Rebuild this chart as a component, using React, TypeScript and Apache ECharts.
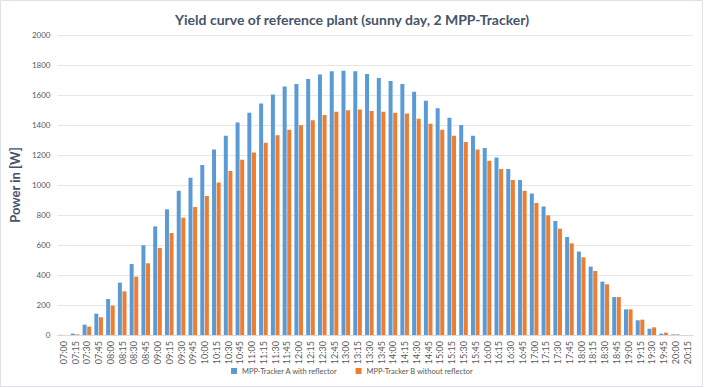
import React, { useEffect, useRef } from "react";
import * as echarts from "echarts";

const categories: string[] = [
  "07:00", "07:15", "07:30", "07:45",
  "08:00", "08:15", "08:30", "08:45",
  "09:00", "09:15", "09:30", "09:45",
  "10:00", "10:15", "10:30", "10:45",
  "11:00", "11:15", "11:30", "11:45",
  "12:00", "12:15", "12:30", "12:45",
  "13:00", "13:15", "13:30", "13:45",
  "14:00", "14:15", "14:30", "14:45",
  "15:00", "15:15", "15:30", "15:45",
  "16:00", "16:15", "16:30", "16:45",
  "17:00", "17:15", "17:30", "17:45",
  "18:00", "18:15", "18:30", "18:45",
  "19:00", "19:15", "19:30", "19:45",
  "20:00", "20:15",
];

const trackerA: number[] = [
  1, 9, 69, 142,
  240, 349, 473, 598,
  724, 838, 962, 1049,
  1133, 1236, 1329, 1416,
  1482, 1544, 1604, 1656,
  1673, 1707, 1736, 1758,
  1762, 1758, 1740, 1713,
  1693, 1673, 1622, 1562,
  1511, 1449, 1400, 1329,
  1247, 1184, 1107, 1033,
  944, 856, 760, 653,
  556, 456, 356, 253,
  171, 98, 42, 9,
  4, 0,
];

const trackerB: number[] = [
  0, 4, 56, 118,
  196, 291, 389, 478,
  580, 680, 782, 853,
  927, 1016, 1093, 1169,
  1216, 1282, 1331, 1369,
  1398, 1431, 1467, 1489,
  1498, 1504, 1493, 1489,
  1482, 1476, 1442, 1409,
  1369, 1329, 1287, 1236,
  1162, 1107, 1033, 962,
  880, 798, 709, 611,
  518, 427, 338, 253,
  171, 102, 51, 16,
  4, 0,
];

const seriesNames: string[] = [
  "MPP-Tracker A with reflector",
  "MPP-Tracker B without reflector",
];

const titleText = "Yield curve of reference plant (sunny day, 2 MPP-Tracker)";
const yAxisName = "Power in [W]";

export default function App() {
  const ref = useRef<HTMLDivElement>(null);

  useEffect(() => {
    document.body.style.margin = "0";
    if (!ref.current) return;
    const chart = echarts.init(ref.current, null, { renderer: "svg" });
    const font = "Lato";
    chart.setOption({
      animation: false,
      backgroundColor: "#ffffff",
      title: {
        text: titleText,
        left: "center",
        top: 7,
        textStyle: {
          fontFamily: font,
          fontSize: 14,
          fontWeight: "bold",
          color: "#44546A",
        },
      },
      graphic: [
        {
          type: "rect",
          shape: { x: 0.5, y: 0.5, width: 702, height: 386 },
          style: { fill: "none", stroke: "#DEE2E7", lineWidth: 1 },
          silent: true,
        },
      ],
      legend: {
        bottom: 8,
        left: "center",
        icon: "rect",
        itemWidth: 6,
        itemHeight: 6,
        itemGap: 18,
        textStyle: { fontFamily: font, fontSize: 7.5, color: "#595959" },
        data: seriesNames,
      },
      grid: { left: 54, right: 11, top: 35, bottom: 53, containLabel: false },
      xAxis: {
        type: "category",
        data: categories,
        axisLine: { lineStyle: { color: "#D9D9D9" } },
        axisTick: { show: false },
        axisLabel: {
          interval: 0,
          rotate: 90,
          fontFamily: font,
          fontSize: 9,
          color: "#595959",
          margin: 6,
        },
      },
      yAxis: {
        type: "value",
        min: 0,
        max: 2000,
        interval: 200,
        name: yAxisName,
        nameLocation: "middle",
        nameGap: 33,
        nameTextStyle: {
          fontFamily: font,
          fontSize: 13,
          fontWeight: "bold",
          color: "#44546A",
        },
        axisLine: { show: false },
        axisTick: { show: false },
        axisLabel: {
          fontFamily: font,
          fontSize: 8,
          color: "#595959",
          margin: 7,
          formatter: (v: number) => String(v),
        },
        splitLine: { lineStyle: { color: "#E6E6E6", width: 1 } },
      },
      series: [
        {
          name: seriesNames[0],
          type: "bar",
          data: trackerA,
          barWidth: 4,
          barGap: "15%",
          itemStyle: { color: "#5B9BD5" },
        },
        {
          name: seriesNames[1],
          type: "bar",
          data: trackerB,
          barWidth: 4,
          barGap: "15%",
          itemStyle: { color: "#ED7D31" },
        },
      ],
    });
    return () => chart.dispose();
  }, []);

  return <div ref={ref} style={{ width: 704, height: 388 }} />;
}
